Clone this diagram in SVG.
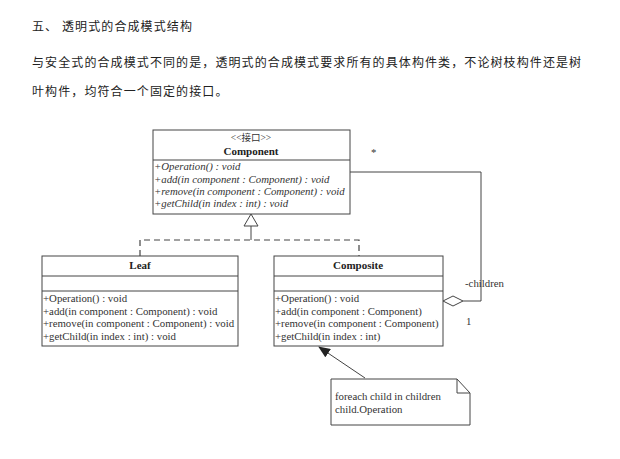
<svg xmlns="http://www.w3.org/2000/svg" width="620" height="459" viewBox="0 0 620 459">
<defs>
<style>
.cjk{font-family:"Liberation Sans","Noto Sans CJK SC",sans-serif;font-size:12px;fill:#222;letter-spacing:1.1px}
.u{font-family:"Liberation Serif","Noto Sans CJK SC",serif;font-size:10.8px;fill:#333}
.b{font-weight:bold;font-size:11px;fill:#222}
.i{font-style:italic}
.box{fill:#fff;stroke:#444;stroke-width:1}
.ln{fill:none;stroke:#444;stroke-width:1}
.dash{fill:none;stroke:#444;stroke-width:1.2;stroke-dasharray:6,4}
</style>
<marker id="ah" markerWidth="12" markerHeight="10" refX="11" refY="5" orient="auto" markerUnits="userSpaceOnUse">
<path d="M0,0 L12,5 L0,10 z" fill="#222"/>
</marker>
</defs>
<rect width="620" height="459" fill="#fff"/>
<g id="heading">
<text class="cjk" x="32" y="31">五、</text>
<text class="cjk" x="62" y="31">透明式的合成模式结构</text>
<text class="cjk" x="32" y="67">与安全式的合成模式不同的是，透明式的合成模式要求所有的具体构件类，不论树枝构件还是树</text>
<text class="cjk" x="32" y="96">叶构件，均符合一个固定的接口。</text>
</g>
<g id="connectors">
<path class="ln" d="M251,226 L251,240"/>
<path class="dash" d="M140,256 L140,240 L359,240 L359,256"/>
<polygon points="251,214 244,226 258,226" fill="#fff" stroke="#444"/>
<path class="ln" d="M350,172 L481,172 L481,301 L463,301"/>
<polygon points="443,301 453,296 463,301 453,306" fill="#fff" stroke="#444"/>
<path class="ln" d="M365,378 L319,347" marker-end="url(#ah)"/>
<text class="u" x="371" y="156">*</text>
<text class="u" x="465" y="287">-children</text>
<text class="u" x="466" y="325">1</text>
</g>
<g id="component">
<rect class="box" x="153" y="130" width="197" height="84"/>
<path class="ln" d="M153,160 H350"/>
<text class="u" x="251" y="141" text-anchor="middle" style="font-size:9.5px">&lt;&lt;接口&gt;&gt;</text>
<text class="u b" x="251" y="155" text-anchor="middle">Component</text>
<text class="u i" x="154" y="170">+Operation() : void</text>
<text class="u i" x="154" y="183">+add(in component : Component) : void</text>
<text class="u i" x="154" y="195">+remove(in component : Component) : void</text>
<text class="u i" x="154" y="207">+getChild(in index : int) : void</text>
</g>
<g id="leaf">
<rect class="box" x="42" y="256" width="196" height="90"/>
<path class="ln" d="M42,276 H238 M42,291 H238"/>
<text class="u b" x="140" y="269" text-anchor="middle">Leaf</text>
<text class="u" x="43" y="302">+Operation() : void</text>
<text class="u" x="43" y="315">+add(in component : Component) : void</text>
<text class="u" x="43" y="327">+remove(in component : Component) : void</text>
<text class="u" x="43" y="340">+getChild(in index : int) : void</text>
</g>
<g id="composite">
<rect class="box" x="274" y="256" width="169" height="90"/>
<path class="ln" d="M274,276 H443 M274,291 H443"/>
<text class="u b" x="358" y="269" text-anchor="middle">Composite</text>
<text class="u" x="275" y="302">+Operation() : void</text>
<text class="u" x="275" y="315">+add(in component : Component)</text>
<text class="u" x="275" y="327">+remove(in component : Component)</text>
<text class="u" x="275" y="340">+getChild(in index : int)</text>
</g>
<g id="note">
<polygon class="box" points="331,379 457,379 470,393 470,425 331,425"/>
<path class="ln" d="M457,379 L457,393 L470,393"/>
<text class="u" x="335" y="400">foreach child in children</text>
<text class="u" x="335" y="413">child.Operation</text>
</g>
</svg>
